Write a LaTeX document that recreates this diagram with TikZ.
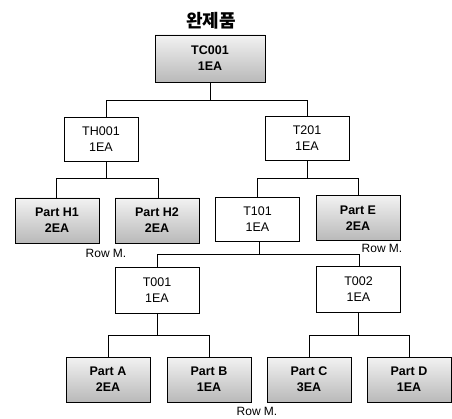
\documentclass[tikz,border=0pt]{standalone}
\usepackage{fontspec}
\setmainfont{Liberation Sans}
\newfontfamily\krfont{Noto Sans CJK KR}
\begin{document}
\begin{tikzpicture}[x=1pt,y=-1pt,
  base/.style={draw=black, line width=0.8pt, align=center, inner sep=0pt,
    minimum width=84pt, minimum height=45pt, font=\fontsize{12.5}{16}\selectfont},
  plainbox/.style={base, fill=white},
  partbox/.style={base, top color=gray!10, bottom color=gray!55,
    font=\fontsize{12.5}{16}\selectfont\bfseries},
  wire/.style={line width=0.8pt},
  note/.style={font=\fontsize{12}{14}\selectfont}]
\useasboundingbox (0,0) rectangle (452,419);
\node[font=\krfont\bfseries\fontsize{18}{20}\selectfont] (title) at (211,21) {완제품};
\node[partbox, minimum width=110pt, minimum height=47pt] (tc) at (210,58.5) {TC001\\1EA};
\node[plainbox, minimum width=74pt, minimum height=44pt] (th) at (101,139) {TH001\\1EA};
\node[plainbox, minimum height=44pt] (tr) at (307,138.5) {T201\\1EA};
\node[partbox] (ph1) at (57,220.5) {Part H1\\2EA};
\node[partbox] (ph2) at (157,220.5) {Part H2\\2EA};
\node[plainbox, minimum height=44pt] (t101) at (257.5,219) {T101\\1EA};
\node[partbox] (pe) at (358,218) {Part E\\2EA};
\node[plainbox, minimum height=46pt] (t001) at (157,290) {T001\\1EA};
\node[plainbox, minimum height=46pt] (t002) at (358.5,289) {T002\\1EA};
\node[partbox] (pa) at (108,379.5) {Part A\\2EA};
\node[partbox] (pb) at (209,379.5) {Part B\\1EA};
\node[partbox] (pc) at (309,379.5) {Part C\\3EA};
\node[partbox] (pd) at (409,379.5) {Part D\\1EA};
\node[note] (r1) at (106,253) {Row M.};
\node[note] (r2) at (382,248) {Row M.};
\node[note] (r3) at (257,411) {Row M.};
\coordinate (b1) at (0,100);
\coordinate (b2) at (0,178);
\coordinate (b3) at (0,254);
\coordinate (b4) at (0,335);
% level 1
\draw[wire] (tc.south) -- (tc.south |- b1);
\draw[wire] ([xshift=5pt]th.north) |- (tr.north |- b1) -- (tr.north);
% TH001
\draw[wire] ([xshift=5pt]th.south) -- ([xshift=5pt]th.south |- b2);
\draw[wire] ([xshift=-1pt]ph1.north) |- ([xshift=1pt]ph2.north |- b2) -- ([xshift=1pt]ph2.north);
% T201
\draw[wire] (tr.south) -- (tr.south |- b2);
\draw[wire] (t101.north) |- (pe.north |- b2) -- (pe.north);
% T101
\draw[wire] ([xshift=1.5pt]t101.south) -- ([xshift=1.5pt]t101.south |- b3);
\draw[wire] (t001.north) |- ([xshift=0.5pt]t002.north |- b3) -- ([xshift=0.5pt]t002.north);
% T001
\draw[wire] (t001.south) -- (t001.south |- b4);
\draw[wire] (pa.north) |- (pb.north |- b4) -- (pb.north);
% T002
\draw[wire] (t002.south) -- (t002.south |- b4);
\draw[wire] (pc.north) |- (pd.north |- b4) -- (pd.north);
\end{tikzpicture}
\end{document}
